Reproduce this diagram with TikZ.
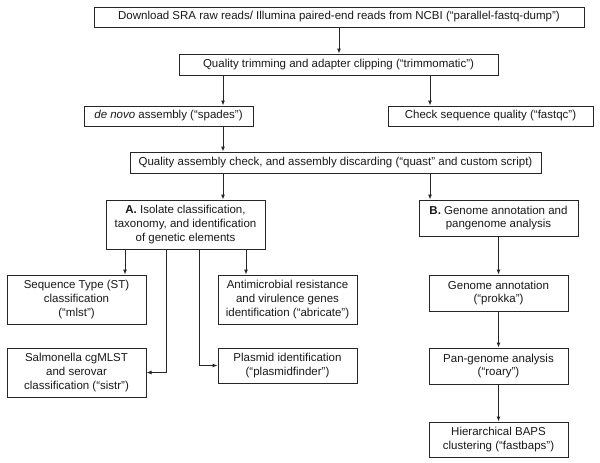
\documentclass[tikz,border=0pt]{standalone}
\usepackage{fontspec}
\setmainfont{Liberation Sans}
\usetikzlibrary{arrows.meta}
\begin{document}
\begin{tikzpicture}[x=1pt,y=-1pt,
  box/.style={draw=black!85, line width=1pt, inner sep=0pt, align=center,
    font=\fontsize{11.5}{13.6}\selectfont, text=black!90},
  arr/.style={draw=black!85, line width=1pt, -{Latex[length=5pt,width=4.2pt]}}]
\useasboundingbox[fill=white] (0,0) rectangle (600,463);
\node[box, minimum width=490, minimum height=20] (b1) at (339,17) {Download SRA raw reads/ Illumina paired-end reads from NCBI (“parallel-fastq-dump”)};
\node[box, minimum width=319, minimum height=21] (b2) at (338.5,64.5) {Quality trimming and adapter clipping (“trimmomatic”)};
\node[box, minimum width=169, minimum height=20] (b3) at (168.5,116) {\textit{de novo} assembly (“spades”)};
\node[box, minimum width=205, minimum height=20] (b4) at (490.5,116) {Check sequence quality (“fastqc”)};
\node[box, minimum width=411, minimum height=21] (b5) at (335.5,162.5) {Quality assembly check, and assembly discarding (“quast” and custom script)};
\node[box, minimum width=159, minimum height=49] (bA) at (185.5,224.5) {\textbf{A.} Isolate classification,\\taxonomy, and identification\\of genetic elements};
\node[box, minimum width=159, minimum height=36] (bB) at (498.5,218) {\textbf{B.} Genome annotation and\\pangenome analysis};
\node[box, minimum width=139, minimum height=49] (bST) at (76.5,299.5) {Sequence Type (ST)\\classification\\(“mlst”)};
\node[box, minimum width=139, minimum height=49] (bAMR) at (287.5,299.5) {Antimicrobial resistance\\and virulence genes\\identification (“abricate”)};
\node[box, minimum width=139, minimum height=49] (bSis) at (76.5,372.5) {Salmonella cgMLST\\and serovar\\classification (“sistr”)};
\node[box, minimum width=139, minimum height=35] (bPla) at (287.5,365.5) {Plasmid identification\\(“plasmidfinder”)};
\node[box, minimum width=139, minimum height=36] (bGA) at (498.5,293) {Genome annotation\\(“prokka”)};
\node[box, minimum width=139, minimum height=36] (bPan) at (498.5,366) {Pan-genome analysis\\(“roary”)};
\node[box, minimum width=139, minimum height=35] (bBAPS) at (498.5,439.5) {Hierarchical BAPS\\clustering (“fastbaps”)};
\coordinate (xL) at (223,0);
\coordinate (xR) at (430,0);
\coordinate (xa) at (125,0);
\coordinate (xb) at (166,0);
\coordinate (xc) at (199,0);
\coordinate (xd) at (246,0);
\draw[arr] (b1.south) -- (b1.south |- b2.north);
\draw[arr] (xL |- b2.south) -- (xL |- b3.north);
\draw[arr] (xR |- b2.south) -- (xR |- b4.north);
\draw[arr] (xL |- b3.south) -- (xL |- b5.north);
\draw[arr] (xL |- b5.south) -- (xL |- bA.north);
\draw[arr] (xR |- b5.south) -- (xR |- bB.north);
\draw[arr] (xa |- bA.south) -- (xa |- bST.north);
\draw[arr] (xd |- bA.south) -- (xd |- bAMR.north);
\draw[arr] (xb |- bA.south) -- (xb |- bSis.east) -- (bSis.east);
\draw[arr] (xc |- bA.south) -- (xc |- bPla.west) -- (bPla.west);
\draw[arr] (bB.south) -- (bGA.north);
\draw[arr] (bGA.south) -- (bPan.north);
\draw[arr] (bPan.south) -- (bBAPS.north);
\end{tikzpicture}
\end{document}
